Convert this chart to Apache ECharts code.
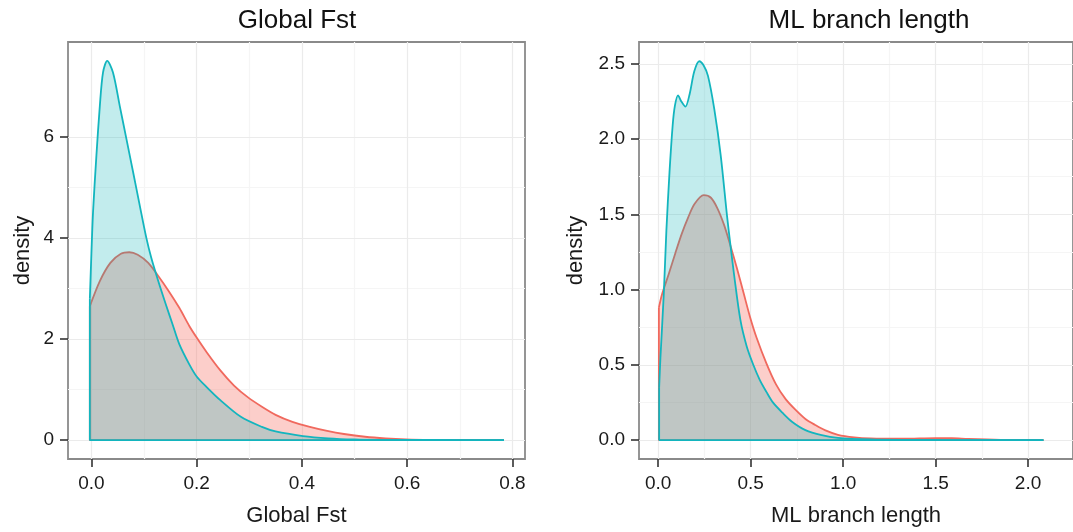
<!DOCTYPE html>
<html><head><meta charset="utf-8">
<script src="https://cdn.jsdelivr.net/npm/echarts@6/dist/echarts.min.js"></script>
<style>html,body{margin:0;padding:0;background:#fff}#c{width:1073px;height:532px}</style>
</head><body><div id="c"></div>
<script>
// ---- Data: Global Fst panel ----
const fstRedX  = [-0.003, 0.016, 0.036, 0.056, 0.072, 0.088, 0.108, 0.127, 0.147, 0.167, 0.186, 0.200, 0.219, 0.245, 0.271, 0.297, 0.324, 0.350, 0.382, 0.415, 0.448, 0.480, 0.520, 0.559, 0.598, 0.644, 0.700, 0.784];
const fstRedY  = [2.65, 3.15, 3.51, 3.69, 3.72, 3.67, 3.51, 3.25, 2.95, 2.62, 2.26, 2.03, 1.74, 1.38, 1.08, 0.85, 0.66, 0.50, 0.36, 0.26, 0.18, 0.12, 0.066, 0.033, 0.013, 0.003, 0.001, 0];
const fstCyanX = [-0.003, 0.000, 0.003, 0.0095, 0.016, 0.022, 0.030, 0.041, 0.054, 0.067, 0.079, 0.092, 0.1045, 0.114, 0.127, 0.141, 0.154, 0.167, 0.186, 0.200, 0.219, 0.245, 0.284, 0.324, 0.350, 0.402, 0.450, 0.500, 0.550, 0.650, 0.784];
const fstCyanY = [2.8, 3.7, 4.5, 5.64, 6.62, 7.28, 7.51, 7.28, 6.61, 5.94, 5.32, 4.64, 4.0, 3.6, 3.15, 2.7, 2.3, 1.9, 1.5, 1.26, 1.05, 0.79, 0.46, 0.26, 0.17, 0.08, 0.035, 0.012, 0.004, 0.001, 0];
const fstTicksX = [0, 0.2, 0.4, 0.6, 0.8];
const fstTicksY = [0, 2, 4, 6];

// ---- Data: ML branch length panel ----
const mlRedX  = [0.0035, 0.021, 0.056, 0.092, 0.127, 0.162, 0.197, 0.246, 0.285, 0.320, 0.356, 0.391, 0.426, 0.461, 0.496, 0.532, 0.585, 0.637, 0.690, 0.743, 0.796, 0.849, 0.901, 0.972, 1.060, 1.148, 1.324, 1.500, 1.588, 1.676, 1.852, 2.083];
const mlRedY  = [0.88, 0.97, 1.10, 1.24, 1.37, 1.48, 1.57, 1.627, 1.61, 1.54, 1.43, 1.29, 1.14, 0.98, 0.82, 0.68, 0.51, 0.37, 0.27, 0.20, 0.14, 0.10, 0.066, 0.035, 0.018, 0.011, 0.009, 0.013, 0.013, 0.007, 0.001, 0];
const mlCyanX = [0.005, 0.012, 0.030, 0.044, 0.061, 0.078, 0.090, 0.107, 0.125, 0.147, 0.170, 0.195, 0.222, 0.245, 0.269, 0.303, 0.338, 0.372, 0.390, 0.410, 0.444, 0.479, 0.514, 0.549, 0.585, 0.620, 0.673, 0.725, 0.796, 0.884, 0.972, 1.148, 1.324, 1.600, 2.083];
const mlCyanY = [0.35, 0.55, 0.97, 1.39, 1.78, 2.09, 2.22, 2.29, 2.25, 2.215, 2.30, 2.45, 2.517, 2.49, 2.42, 2.20, 1.89, 1.49, 1.30, 1.10, 0.80, 0.62, 0.50, 0.40, 0.32, 0.25, 0.18, 0.12, 0.066, 0.033, 0.015, 0.004, 0.001, 0, 0];
const mlTicksX = [0, 0.5, 1.0, 1.5, 2.0];
const mlTicksY = [0, 0.5, 1.0, 1.5, 2.0, 2.5];

const RED = '#F0695E', CYAN = '#13B5BE';
const RED_FILL = 'rgba(248,118,109,0.36)';
const CYAN_FILL = 'rgba(0,175,178,0.24)';
const FONT = '"Liberation Sans", Arial, Helvetica, sans-serif';

function mids(t) { const m = []; for (let i = 0; i < t.length - 1; i++) m.push((t[i] + t[i + 1]) / 2); return m; }
function pairs(xs, ys) { return xs.map((x, i) => [x, ys[i]]); }

function densitySeries(xs, ys, color, fill, gi, z) {
  const n = xs.length - 1;
  return [
    { type: 'line', xAxisIndex: gi, yAxisIndex: gi, z: z, data: pairs(xs, ys), smooth: 0.3,
      symbol: 'none', lineStyle: { color: color, width: 1.8 }, areaStyle: { color: fill, opacity: 1 } },
    { type: 'line', xAxisIndex: gi, yAxisIndex: gi, z: z, data: [[xs[n], 0], [xs[0], 0], [xs[0], ys[0]]],
      symbol: 'none', lineStyle: { color: color, width: 1.8 } }
  ];
}

function gridSeries(gi, tx, ty) {
  const major = { color: '#ebebeb', width: 1.2, type: 'solid' };
  const minor = { color: '#f5f5f5', width: 1.2, type: 'solid' };
  const d = [];
  mids(tx).forEach(v => d.push({ xAxis: v, lineStyle: minor }));
  mids(ty).forEach(v => d.push({ yAxis: v, lineStyle: minor }));
  tx.forEach(v => d.push({ xAxis: v, lineStyle: major }));
  ty.forEach(v => d.push({ yAxis: v, lineStyle: major }));
  return { type: 'line', xAxisIndex: gi, yAxisIndex: gi, z: 1, data: [],
    markLine: { silent: true, z: 1, symbol: ['none', 'none'], label: { show: false }, animation: false, data: d } };
}

function xAxis(gi, min, max, ticks, name) {
  return { type: 'value', gridIndex: gi, min: min, max: max,
    name: name, nameLocation: 'middle', nameGap: 46,
    nameTextStyle: { fontSize: 22, color: '#1a1a1a', fontFamily: FONT },
    axisLine: { show: false, onZero: false },
    axisTick: { show: true, length: 8, customValues: ticks, lineStyle: { color: '#333', width: 1.6 } },
    axisLabel: { customValues: ticks, fontSize: 19, color: '#1a1a1a', margin: 15, fontFamily: FONT,
      formatter: v => v.toFixed(1) },
    splitLine: { show: false } };
}
function yAxis(gi, min, max, ticks, digits, gap) {
  return { type: 'value', gridIndex: gi, min: min, max: max,
    name: 'density', nameLocation: 'middle', nameGap: gap,
    nameTextStyle: { fontSize: 22, color: '#1a1a1a', fontFamily: FONT },
    axisLine: { show: false, onZero: false },
    axisTick: { show: true, length: 8, customValues: ticks, lineStyle: { color: '#333', width: 1.6 } },
    axisLabel: { customValues: ticks, fontSize: 19, color: '#1a1a1a', margin: 14, fontFamily: FONT,
      formatter: v => v.toFixed(digits) },
    splitLine: { show: false } };
}

const chart = echarts.init(document.getElementById('c'));
chart.setOption({
  animation: false,
  backgroundColor: '#fff',
  textStyle: { fontFamily: FONT },
  title: [
    { text: 'Global Fst', left: 292, top: 3, textAlign: 'center',
      textStyle: { fontSize: 26, fontWeight: 'normal', color: '#111', fontFamily: FONT } },
    { text: 'ML branch length', left: 864, top: 3, textAlign: 'center',
      textStyle: { fontSize: 26, fontWeight: 'normal', color: '#111', fontFamily: FONT } }
  ],
  grid: [
    { left: 68, top: 42, width: 457, height: 420, show: true, borderColor: '#8a8a8a', borderWidth: 1.8, backgroundColor: '#fff' },
    { left: 639, top: 42, width: 451, height: 420, show: true, borderColor: '#8a8a8a', borderWidth: 1.8, backgroundColor: '#fff' }
  ],
  xAxis: [
    xAxis(0, -0.0445, 0.824, fstTicksX, 'Global Fst'),
    xAxis(1, -0.104, 2.243, mlTicksX, 'ML branch length')
  ],
  yAxis: [
    yAxis(0, -0.375, 7.885, fstTicksY, 0, 34),
    yAxis(1, -0.126, 2.645, mlTicksY, 1, 52)
  ],
  series: [
    gridSeries(0, fstTicksX, fstTicksY),
    gridSeries(1, mlTicksX, mlTicksY),
    ...densitySeries(fstRedX, fstRedY, RED, RED_FILL, 0, 2),
    ...densitySeries(fstCyanX, fstCyanY, CYAN, CYAN_FILL, 0, 3),
    ...densitySeries(mlRedX, mlRedY, RED, RED_FILL, 1, 2),
    ...densitySeries(mlCyanX, mlCyanY, CYAN, CYAN_FILL, 1, 3)
  ]
});
</script>
</body></html>
